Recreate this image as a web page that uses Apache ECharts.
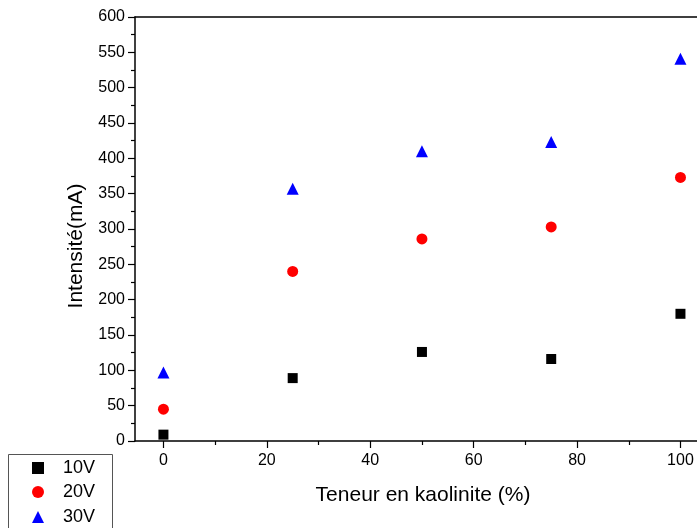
<!DOCTYPE html>
<html>
<head>
<meta charset="utf-8">
<script src="https://cdn.jsdelivr.net/npm/echarts@6/dist/echarts.min.js"></script>
<style>
  html, body { margin: 0; padding: 0; background: #fff; }
  #chart { width: 697px; height: 528px; }
</style>
</head>
<body>
<div id="chart"></div>
<script>
// données
const teneur = [0, 25, 50, 75, 100]
const i10V = [9, 89, 126, 116, 180]
const i20V = [45, 240, 286, 303, 373]
const i30V = [97, 357, 410, 423, 541]
const seriesNames = ['10V', '20V', '30V']
const xTicks = [0, 20, 40, 60, 80, 100]
const xMinorTicks = [10, 30, 50, 70, 90]

const font = 'Liberation Sans, Arial, sans-serif'
const black = '#000'

function pts(ys) {
  return teneur.map((x, i) => [x, ys[i]])
}

// une légende par ligne (sinon elle passe sur deux colonnes)
function legendRow(name, top) {
  return {
    orient: 'vertical',
    left: 32,
    top: top,
    padding: 0,
    itemWidth: 12,
    itemHeight: 12,
    textStyle: { fontSize: 18, color: black, fontFamily: font, padding: [0, 0, 0, 14] },
    data: [name],
  }
}

const myChart = echarts.init(document.getElementById('chart'))
const option = {
  animation: false,
  textStyle: { fontFamily: font },
  grid: {
    left: 135,
    top: 17,
    right: 0,
    height: 424,
  },
  legend: [
    legendRow(seriesNames[0], 459),
    legendRow(seriesNames[1], 483),
    legendRow(seriesNames[2], 508),
  ],
  graphic: [
    {
      type: 'rect',
      shape: { x: 8.5, y: 454.5, width: 104, height: 100 },
      style: { fill: 'none', stroke: '#555', lineWidth: 1 },
    },
  ],
  xAxis: [
    {
      type: 'value',
      min: -5.5,
      max: 103.2,
      name: 'Teneur en kaolinite (%)',
      nameLocation: 'middle',
      nameGap: 44,
      nameTextStyle: { fontSize: 21, color: black, fontFamily: font, padding: [0, 0, 0, 14] },
      axisLine: { onZero: false, lineStyle: { color: black, width: 1.5 } },
      axisTick: { customValues: xTicks, length: 7, lineStyle: { color: black, width: 1.2 } },
      axisLabel: { customValues: xTicks, margin: 12, fontSize: 16, color: black },
      splitLine: { show: false },
    },
    {
      // petites graduations
      type: 'value',
      position: 'bottom',
      min: -5.5,
      max: 103.2,
      axisLine: { show: false },
      axisTick: { customValues: xMinorTicks, length: 4, lineStyle: { color: black, width: 1.2 } },
      axisLabel: { show: false },
      splitLine: { show: false },
    },
    {
      // ligne du haut du cadre
      type: 'value',
      position: 'top',
      min: -5.5,
      max: 103.2,
      axisLine: { show: true, onZero: false, lineStyle: { color: black, width: 1.5 } },
      axisTick: { show: false },
      axisLabel: { show: false },
      splitLine: { show: false },
    },
  ],
  yAxis: {
    type: 'value',
    min: 0,
    max: 600,
    interval: 50,
    name: 'Intensité(mA)',
    nameLocation: 'middle',
    nameGap: 48,
    nameTextStyle: { fontSize: 21, color: black, fontFamily: font, padding: [0, 34, 0, 0] },
    axisLine: { show: true, onZero: false, lineStyle: { color: black, width: 1.5 } },
    axisTick: { show: true, length: 7, lineStyle: { color: black, width: 1.2 } },
    minorTick: { show: true, splitNumber: 2, length: 4, lineStyle: { color: black, width: 1.2 } },
    axisLabel: { margin: 10, fontSize: 16, color: black },
    splitLine: { show: false },
  },
  series: [
    {
      name: seriesNames[0],
      type: 'scatter',
      symbol: 'rect',
      symbolSize: 10,
      itemStyle: { color: black, opacity: 1 },
      data: pts(i10V),
    },
    {
      name: seriesNames[1],
      type: 'scatter',
      symbol: 'circle',
      symbolSize: 11,
      itemStyle: { color: '#f00', opacity: 1 },
      data: pts(i20V),
    },
    {
      name: seriesNames[2],
      type: 'scatter',
      symbol: 'triangle',
      symbolSize: 12,
      itemStyle: { color: '#00f', opacity: 1 },
      data: pts(i30V),
    },
  ],
}
myChart.setOption(option, true)
</script>
</body>
</html>
